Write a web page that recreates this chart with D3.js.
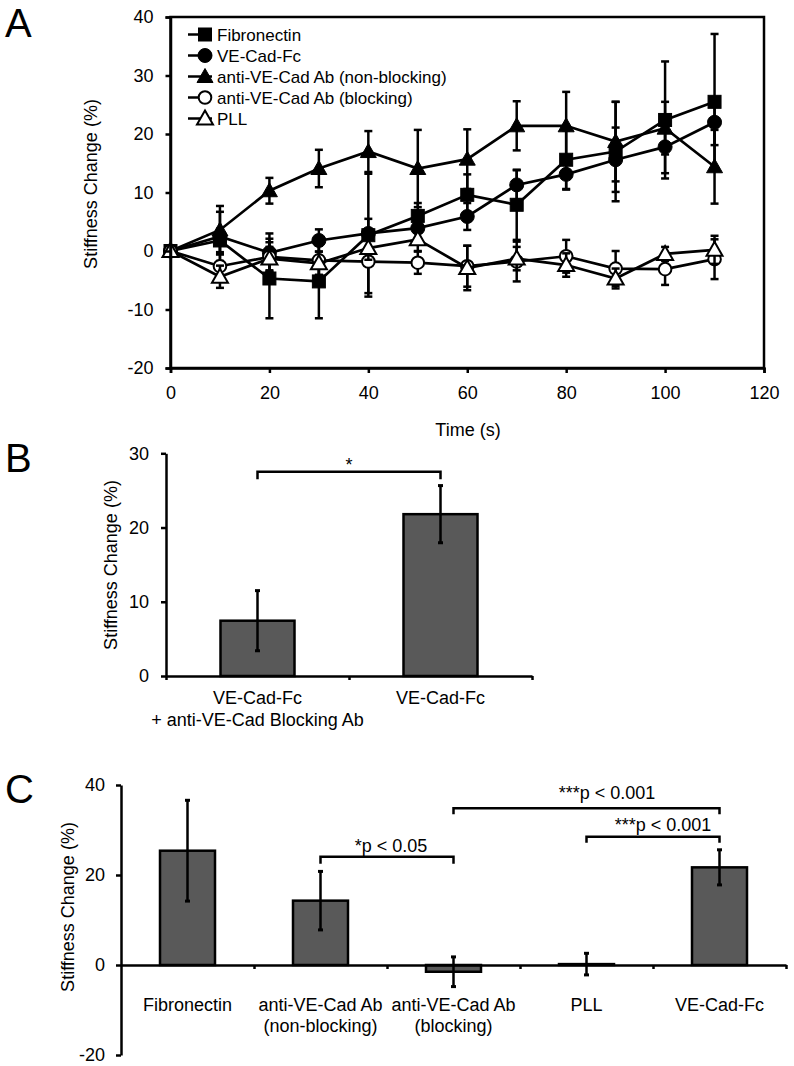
<!DOCTYPE html>
<html><head><meta charset="utf-8">
<script src="https://cdn.jsdelivr.net/npm/d3@7"></script>
<style>
body{margin:0;background:#fff}
svg{display:block}
text{font-family:"Liberation Sans",Arial,Helvetica,sans-serif;fill:#000}
</style>
</head><body>
<svg id="c" width="794" height="1066"></svg>
<script>
// ---------- Panel A data ----------
const times = [0,10,20,30,40,50,60,70,80,90,100,110];
const seriesNames = ["Fibronectin","VE-Cad-Fc","anti-VE-Cad Ab (non-blocking)","anti-VE-Cad Ab (blocking)","PLL"];
const fibronectin    = [0, 1.8, -4.7, -5.2, 2.7, 6.0, 9.6, 7.9, 15.6, 17.0, 22.4, 25.5];
const fibronectinErr = [0, 2.0, 6.8, 6.3, 10.5, 2.2, 3.5, 6.0, 5.0, 8.5, 10.0, 11.6];
const veCadFc        = [0, 2.5, -0.3, 1.8, 3.0, 3.9, 5.9, 11.3, 13.1, 15.6, 17.8, 22.0];
const veCadFcErr     = [0, 4.2, 3.3, 1.9, 2.5, 2.5, 2.3, 2.5, 2.6, 5.5, 4.5, 3.9];
const nonBlocking    = [0, 3.6, 10.3, 14.1, 17.0, 14.1, 15.7, 21.4, 21.4, 18.7, 21.0, 14.4];
const nonBlockingErr = [0, 4.1, 2.2, 3.2, 3.5, 6.6, 5.1, 4.2, 5.8, 6.8, 4.5, 6.3];
const blocking       = [0, -2.6, -1.0, -1.6, -1.8, -2.0, -2.6, -1.8, -0.9, -3.0, -3.1, -1.4];
const blockingErr    = [0, 2.0, 2.5, 2.5, 5.4, 1.9, 3.5, 3.4, 2.8, 3.0, 2.7, 3.4];
const pll            = [0, -4.4, -1.3, -2.1, 0.5, 2.0, -2.9, -1.3, -2.4, -4.7, -0.5, 0.2];
const pllErr         = [0, 1.9, 2.0, 2.0, 2.0, 2.0, 3.8, 2.0, 2.0, 1.7, 1.2, 2.4];
const xTicksA = [0,20,40,60,80,100,120];
const yTicksA = [-20,-10,0,10,20,30,40];

// ---------- Panel B data ----------
const catsB = [["VE-Cad-Fc","+ anti-VE-Cad Blocking Ab"],["VE-Cad-Fc"]];
const valsB = [7.45, 21.8];
const errB  = [4.05, 3.85];
const yTicksB = [0,10,20,30];

// ---------- Panel C data ----------
const catsC = [["Fibronectin"],["anti-VE-Cad Ab","(non-blocking)"],["anti-VE-Cad Ab","(blocking)"],["PLL"],["VE-Cad-Fc"]];
const valsC = [25.4, 14.3, -1.5, 0.2, 21.7];
const errC  = [11.2, 6.5, 3.3, 2.4, 3.9];
const yTicksC = [-20,0,20,40];

const svg = d3.select("#c");
const FS = 18;
const fmt = d => String(d);

function styleAxis(g, sw){
  g.selectAll(".domain").attr("stroke","#000").attr("stroke-width",sw);
  g.selectAll(".tick line").attr("stroke","#000").attr("stroke-width",sw);
  g.selectAll(".tick text").attr("font-size",FS).attr("fill","#000")
    .attr("font-family",'"Liberation Sans",Arial,sans-serif');
}

function marker(g, shape, filled, x, y){
  const fill = filled ? "#000" : "#fff";
  if (shape === "square"){
    g.append("rect").attr("x",x-6.5).attr("y",y-6.5).attr("width",13).attr("height",13)
      .attr("fill",fill).attr("stroke","#000").attr("stroke-width",filled?1:2);
  } else if (shape === "circle"){
    g.append("circle").attr("cx",x).attr("cy",y).attr("r",filled?7:6.3)
      .attr("fill",fill).attr("stroke","#000").attr("stroke-width",filled?1:2);
  } else {
    g.append("path").attr("transform",`translate(${x},${y})`)
      .attr("d","M0,-8L8,6L-8,6Z")
      .attr("fill",fill).attr("stroke","#000").attr("stroke-width",filled?1:2)
      .attr("stroke-linejoin","miter");
  }
}

// ================= PANEL A =================
const xA = d3.scaleLinear().domain([0,120]).range([170.5,764]);
const yA = d3.scaleLinear().domain([-20,40]).range([368,17]);
const gA = svg.append("g");

gA.append("text").attr("x",5).attr("y",37).attr("font-size",40).text("A");

const seriesA = [
  {name:seriesNames[0], v:fibronectin, e:fibronectinErr, shape:"square",  filled:true},
  {name:seriesNames[1], v:veCadFc,     e:veCadFcErr,     shape:"circle",  filled:true},
  {name:seriesNames[2], v:nonBlocking, e:nonBlockingErr, shape:"triangle",filled:true},
  {name:seriesNames[3], v:blocking,    e:blockingErr,    shape:"circle",  filled:false},
  {name:seriesNames[4], v:pll,         e:pllErr,         shape:"triangle",filled:false}
];

const line = d3.line().x((d,i)=>xA(times[i])).y(d=>yA(d));
seriesA.forEach(s=>{
  const g = gA.append("g");
  s.v.forEach((v,i)=>{
    const e = s.e[i]; if (!e) return;
    const x = xA(times[i]);
    g.append("line").attr("x1",x).attr("x2",x).attr("y1",yA(v-e)).attr("y2",yA(v+e))
      .attr("stroke","#000").attr("stroke-width",2.5);
    [v-e, v+e].forEach(w=>{
      g.append("line").attr("x1",x-4).attr("x2",x+4).attr("y1",yA(w)).attr("y2",yA(w))
        .attr("stroke","#000").attr("stroke-width",2.5);
    });
  });
  g.append("path").attr("d",line(s.v)).attr("fill","none").attr("stroke","#000").attr("stroke-width",2.7);
  s.v.forEach((v,i)=>marker(g,s.shape,s.filled,xA(times[i]),yA(v)));
});

// axes A
const axYA = gA.append("g").attr("transform",`translate(${xA(0)},0)`)
  .call(d3.axisLeft(yA).tickValues(yTicksA).tickSize(5).tickPadding(12).tickFormat(fmt));
styleAxis(axYA,2.5);
const axXA = gA.append("g").attr("transform",`translate(0,${yA(-20)})`)
  .call(d3.axisBottom(xA).tickValues(xTicksA).tickSize(5).tickPadding(13).tickFormat(fmt));
styleAxis(axXA,2.5);
gA.append("rect").attr("x",xA(0)).attr("y",yA(40)).attr("width",xA(120)-xA(0)).attr("height",yA(-20)-yA(40))
  .attr("fill","none").attr("stroke","#000").attr("stroke-width",2.5);

gA.append("text").attr("transform","translate(97,184) rotate(-90)").attr("text-anchor","middle")
  .attr("font-size",FS).text("Stiffness Change (%)");
gA.append("text").attr("x",468).attr("y",436).attr("text-anchor","middle").attr("font-size",FS).text("Time (s)");

// legend
seriesA.forEach((s,i)=>{
  const y = 34.5 + i*21;
  const g = gA.append("g");
  g.append("line").attr("x1",188).attr("x2",212).attr("y1",y).attr("y2",y).attr("stroke","#000").attr("stroke-width",2.5);
  marker(g,s.shape,s.filled,205,y);
  g.append("text").attr("x",217).attr("y",y+6).attr("font-size",17).text(s.name);
});

// ================= helpers for bar panels =================
function errBar(g,x,y1,y2){
  g.append("line").attr("x1",x).attr("x2",x).attr("y1",y1).attr("y2",y2).attr("stroke","#000").attr("stroke-width",2.5);
  [y1,y2].forEach(y=>g.append("line").attr("x1",x-2.5).attr("x2",x+2.5).attr("y1",y).attr("y2",y)
    .attr("stroke","#000").attr("stroke-width",3));
}
function bracket(g,x1,x2,y,drop){
  g.append("path").attr("d",`M${x1},${y+drop}V${y}H${x2}V${y+drop}`)
    .attr("fill","none").attr("stroke","#000").attr("stroke-width",2.5);
}

// ================= PANEL B =================
const gB = svg.append("g");
gB.append("text").attr("x",5).attr("y",472).attr("font-size",40).text("B");
const xB = d3.scaleBand().domain(d3.range(catsB.length)).range([166,532]).padding(0);
const yB = d3.scaleLinear().domain([0,30]).range([676,453.3]);
const bwB = 74;
valsB.forEach((v,i)=>{
  const cx = xB(i)+xB.bandwidth()/2;
  gB.append("rect").attr("x",cx-bwB/2).attr("y",yB(v)).attr("width",bwB).attr("height",yB(0)-yB(v))
    .attr("fill","#595959").attr("stroke","#000").attr("stroke-width",2.5);
  errBar(gB,cx,yB(v+errB[i]),yB(v-errB[i]));
  catsB[i].forEach((t,k)=>gB.append("text").attr("x",cx).attr("y",704+k*22).attr("text-anchor","middle")
    .attr("font-size",FS).text(t));
});
const axYB = gB.append("g").attr("transform","translate(166,0)")
  .call(d3.axisLeft(yB).tickValues(yTicksB).tickSize(5).tickPadding(12).tickFormat(fmt).tickSizeOuter(0));
styleAxis(axYB,2.5);
const xBlin = d3.scaleLinear().domain([0,catsB.length]).range([166,532]);
const axXB = gB.append("g").attr("transform",`translate(0,${yB(0)})`)
  .call(d3.axisBottom(xBlin).tickValues(d3.range(catsB.length+1)).tickSize(4).tickFormat("").tickSizeOuter(0));
styleAxis(axXB,2.5);
{
  const c0 = xB(0)+xB.bandwidth()/2, c1 = xB(1)+xB.bandwidth()/2;
  bracket(gB,c0,c1,471.7,7.5);
  gB.append("text").attr("x",(c0+c1)/2).attr("y",471).attr("text-anchor","middle").attr("font-size",FS).text("*");
}
gB.append("text").attr("transform","translate(117,565) rotate(-90)").attr("text-anchor","middle")
  .attr("font-size",FS).text("Stiffness Change (%)");

// ================= PANEL C =================
const gC = svg.append("g");
gC.append("text").attr("x",5).attr("y",803).attr("font-size",40).text("C");
const xC = d3.scaleBand().domain(d3.range(catsC.length)).range([121,786]).padding(0);
const yC = d3.scaleLinear().domain([-20,40]).range([1055,785]);
const bwC = 55;
const cC = i => xC(i)+xC.bandwidth()/2;
valsC.forEach((v,i)=>{
  const cx = cC(i);
  gC.append("rect").attr("x",cx-bwC/2).attr("y",yC(Math.max(0,v))).attr("width",bwC)
    .attr("height",Math.abs(yC(v)-yC(0)))
    .attr("fill","#595959").attr("stroke","#000").attr("stroke-width",2.5);
});
const axYC = gC.append("g").attr("transform","translate(121,0)")
  .call(d3.axisLeft(yC).tickValues(yTicksC).tickSize(5).tickPadding(11).tickFormat(fmt).tickSizeOuter(0));
styleAxis(axYC,2.5);
const xClin = d3.scaleLinear().domain([0,catsC.length]).range([121,786]);
const axXC = gC.append("g").attr("transform",`translate(0,${yC(0)})`)
  .call(d3.axisBottom(xClin).tickValues(d3.range(1,catsC.length+1)).tickSize(4).tickFormat("").tickSizeOuter(0));
styleAxis(axXC,2.5);
valsC.forEach((v,i)=>{
  const cx = cC(i);
  errBar(gC,cx,yC(v+errC[i]),yC(v-errC[i]));
  catsC[i].forEach((t,k)=>gC.append("text").attr("x",cx).attr("y",1011+k*21).attr("text-anchor","middle")
    .attr("font-size",FS).text(t));
});
bracket(gC,cC(1),cC(2),856.7,7);
gC.append("text").attr("x",391).attr("y",852).attr("text-anchor","middle").attr("font-size",FS).text("*p < 0.05");
bracket(gC,cC(2),cC(4),808.3,6);
gC.append("text").attr("x",607).attr("y",799).attr("text-anchor","middle").attr("font-size",FS).text("***p < 0.001");
bracket(gC,cC(3),cC(4),836.7,6);
gC.append("text").attr("x",663).attr("y",831).attr("text-anchor","middle").attr("font-size",FS).text("***p < 0.001");
gC.append("text").attr("transform","translate(74,907) rotate(-90)").attr("text-anchor","middle")
  .attr("font-size",FS).text("Stiffness Change (%)");
</script>
</body></html>
